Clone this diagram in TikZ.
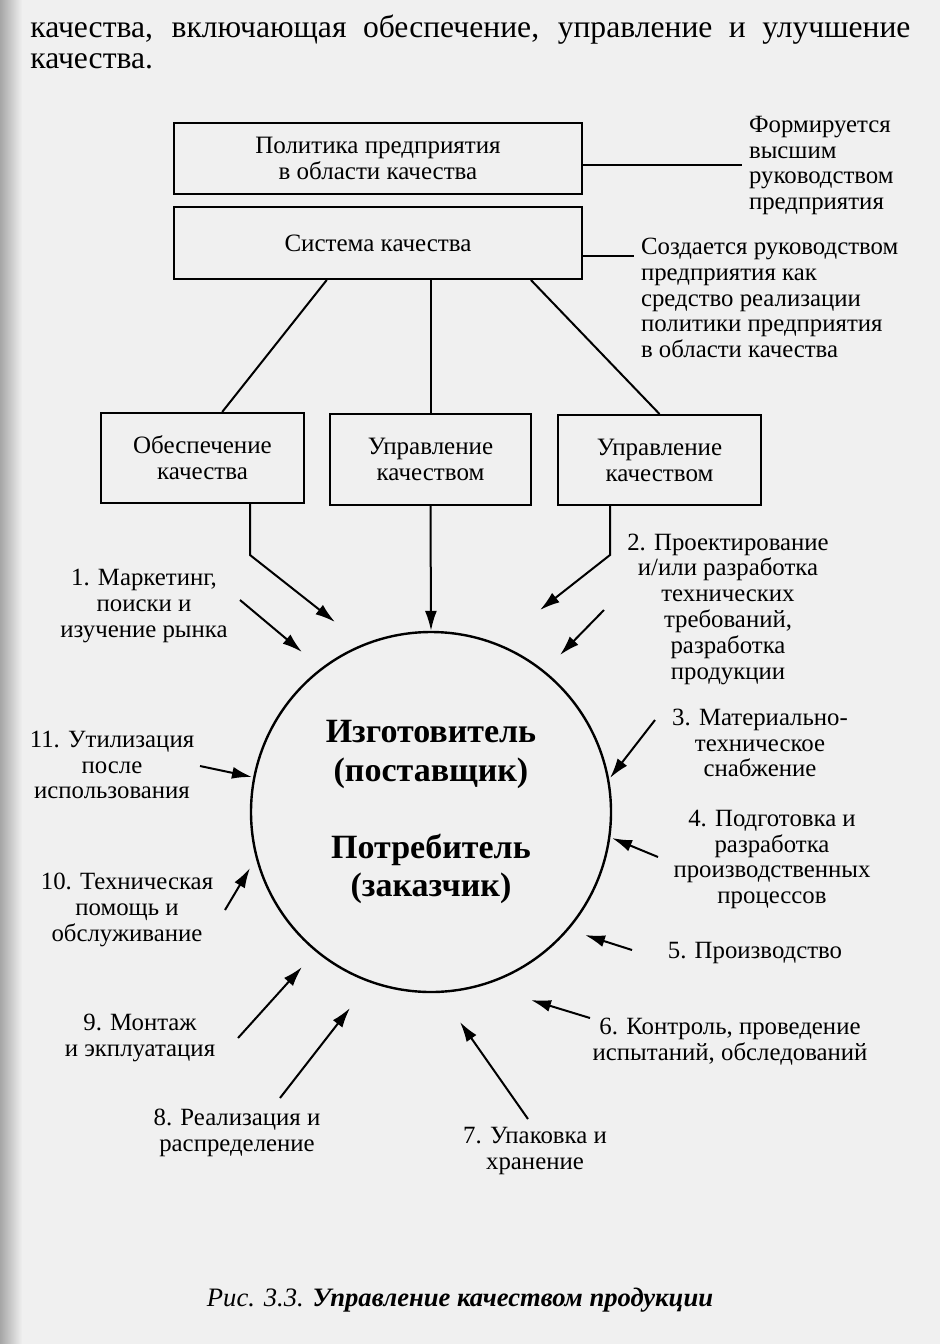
\documentclass[tikz,border=0pt]{standalone}
\usepackage{fontspec}
\setmainfont{Liberation Serif}
\usetikzlibrary{arrows.meta}
\usetikzlibrary{calc}

\tikzset{
  blok/.style={draw, line width=1pt, align=center, inner sep=0pt,
    font=\fontsize{12.5}{13}\selectfont},
  podpis/.style={align=center, font=\fontsize{12.4}{12.9}\selectfont},
  strelka/.style={line width=1pt, -{Latex[length=10pt, width=6pt]}},
  liniya/.style={line width=1pt},
}

\begin{document}
\begin{tikzpicture}[x=0.5pt, y=-0.5pt]

    % фон страницы
    \fill[gray!12] (0,0) rectangle (940,1344);
    \shade[left color=gray!70, right color=gray!12] (0,0) rectangle (22,1344);
    \useasboundingbox (0,0) rectangle (940,1344);

    % текст над рисунком
    \node[anchor=base west, inner sep=0pt, font=\fontsize{15.8}{15}\selectfont] (str1) at (30,37)
        {\makebox[440pt][s]{качества, включающая обеспечение, управление и улучшение}};
    \node[anchor=base west, inner sep=0pt, font=\fontsize{15.8}{15}\selectfont] (str2) at (30,68)
        {качества.};

    % блоки
    \node[blok, minimum width=204pt, minimum height=35.5pt] (box1) at (378,158.5)
        {Политика предприятия\\в области качества};
    \node[blok, minimum width=204pt, minimum height=36pt] (box2) at (378,243)
        {Система качества};
    \node[blok, minimum width=101.5pt, minimum height=45pt] (box3) at (202.5,458)
        {Обеспечение\\качества};
    \node[blok, minimum width=100.5pt, minimum height=45.5pt] (box4) at (430.5,459)
        {Управление\\качеством};
    \node[blok, minimum width=101.5pt, minimum height=45pt] (box5) at (659.5,460)
        {Управление\\качеством};

    % пояснения справа
    \node[podpis, align=left, anchor=west] (forms) at (742,165.5)
        {Формируется\\высшим\\руководством\\предприятия};
    \node[podpis, align=left, anchor=west] (sozd) at (634,298)
        {Создается руководством\\предприятия как\\средство реализации\\политики предприятия\\в области качества};
    \coordinate (f1) at ($(box1.east)+(0,6)$);
    \coordinate (f2) at ($(box2.east)+(0,13)$);
    \draw[liniya] (f1) -- (f1 -| forms.west);
    \draw[liniya] (f2) -- (f2 -| sozd.west);

    % связи блоков
    \draw[liniya] ($(box2.south west)!0.375!(box2.south east)$)
        -- ($(box3.north west)!0.596!(box3.north east)$);
    \draw[liniya] (box2.south -| box4.north) -- (box4.north);
    \draw[liniya] ($(box2.south west)!0.873!(box2.south east)$) -- (box5.north);

    % круг
    \node[circle, draw, line width=1.2pt, minimum size=180pt, inner sep=0pt, align=center,
        font=\bfseries\fontsize{17}{19.25}\selectfont] (krug) at (431,812)
        {Изготовитель\\(поставщик)\\[19.25pt]Потребитель\\(заказчик)};

    % стрелки от блоков
    \coordinate (v3) at (250,555);
    \coordinate (k3) at (335,622);
    \coordinate (v5) at (610,555);
    \coordinate (k5) at (540,610);
    \draw[strelka] (box3.south -| v3) -- (v3) -- (k3);
    \draw[strelka] (box4.south) -- (krug.north);
    \draw[strelka] (box5.south -| v5) -- (v5) -- (k5);

    % этапы жизненного цикла
    \node[podpis] (e1) at (144,606) {1. Маркетинг,\\поиски и\\изучение рынка};
    \node[podpis] (e2) at (728,609) {2. Проектирование\\и/или разработка\\технических\\требований,\\разработка\\продукции};
    \node[podpis] (e3) at (760,743) {3. Материально-\\техническое\\снабжение};
    \node[podpis] (e4) at (772,859.5) {4. Подготовка и\\разработка\\производственных\\процессов};
    \node[podpis] (e5) at (755,953) {5. Производство};
    \node[podpis] (e6) at (730,1042) {6. Контроль, проведение\\испытаний, обследований};
    \node[podpis] (e7) at (535,1151) {7. Упаковка и\\хранение};
    \node[podpis] (e8) at (237,1133) {8. Реализация и\\распределение};
    \node[podpis] (e9) at (140,1038) {9. Монтаж\\и экплуатация};
    \node[podpis] (e10) at (127,910) {10. Техническая\\помощь и\\обслуживание};
    \node[podpis] (e11) at (112,765) {11. Утилизация\\после\\использования};

    % начала и концы стрелок
    \coordinate (s1) at (240,600);  \coordinate (t1) at (302,652);
    \coordinate (s2) at (604,610);  \coordinate (t2) at (560,655);
    \coordinate (s3) at (655,720);  \coordinate (t3) at (610,778);
    \coordinate (s4) at (658,857);  \coordinate (t4) at (612,838);
    \coordinate (s5) at (632,950);  \coordinate (t5) at (585,935);
    \coordinate (s6) at (590,1018); \coordinate (t6) at (531,1000);
    \coordinate (s7) at (528,1119); \coordinate (t7) at (460,1022);
    \coordinate (s8) at (280,1098); \coordinate (t8) at (350,1008);
    \coordinate (s9) at (238,1038); \coordinate (t9) at (302,967);
    \coordinate (s10) at (225,910); \coordinate (t10) at (250,868);
    \coordinate (s11) at (200,766); \coordinate (t11) at (252,777);
    \foreach \i in {1,...,11}
        \draw[strelka] (s\i) -- (t\i);

    % подпись
    \node[font=\fontsize{13.3}{15}\selectfont] (podp) at (460,1300)
        {\textit{Рис. 3.3.} \textbf{\textit{Управление качеством продукции}}};

\end{tikzpicture}
\end{document}
